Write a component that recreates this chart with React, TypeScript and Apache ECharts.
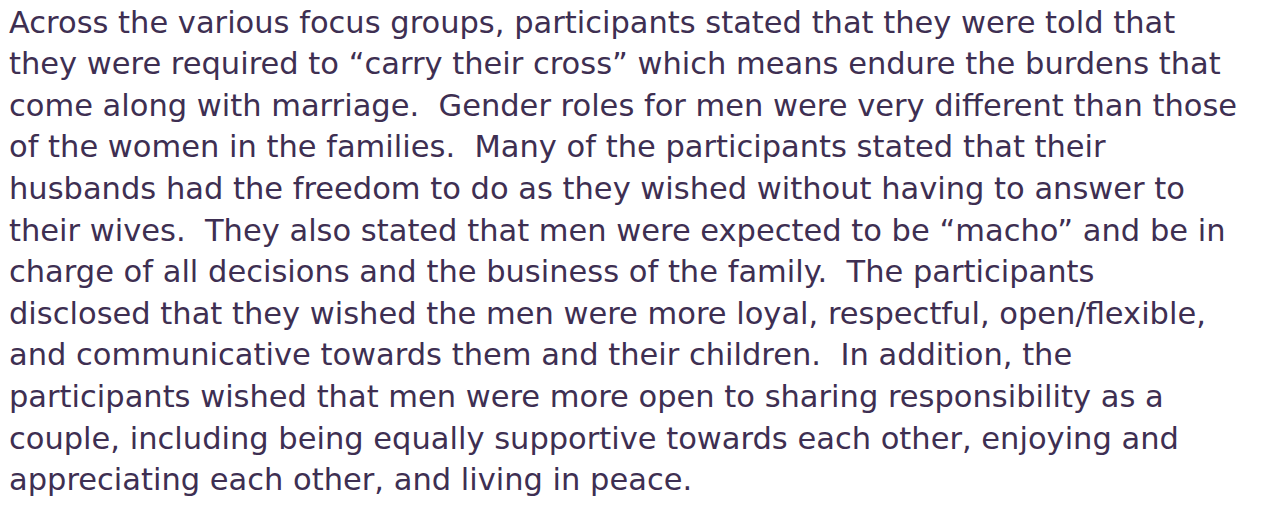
import React, { useEffect, useRef } from "react";
import * as echarts from "echarts";

const lines: string[] = [
  "Across the various focus groups, participants stated that they were told that",
  "they were required to \u201ccarry their cross\u201d which means endure the burdens that",
  "come along with marriage.  Gender roles for men were very different than those",
  "of the women in the families.  Many of the participants stated that their",
  "husbands had the freedom to do as they wished without having to answer to",
  "their wives.  They also stated that men were expected to be \u201cmacho\u201d and be in",
  "charge of all decisions and the business of the family.  The participants",
  "disclosed that they wished the men were more loyal, respectful, open/flexible,",
  "and communicative towards them and their children.  In addition, the",
  "participants wished that men were more open to sharing responsibility as a",
  "couple, including being equally supportive towards each other, enjoying and",
  "appreciating each other, and living in peace.",
];

const TEXT_COLOR = "#3e2f52";
const FONT_SIZE = 30.5;
const LINE_H = 41.6;
const TOP_Y = 22;
const LEFT_X = 9;
const SCALE_X = 1.0;

export default function App() {
  const ref = useRef<HTMLDivElement>(null);
  useEffect(() => {
    const chart = echarts.init(ref.current!, undefined, { renderer: "svg" });
    chart.setOption({
      animation: false,
      backgroundColor: "#ffffff",
      graphic: lines.map((t, i) => ({
        type: "text",
        x: LEFT_X,
        y: TOP_Y + i * LINE_H,
        scaleX: SCALE_X,
        style: {
          text: t,
          fill: TEXT_COLOR,
          font: `${FONT_SIZE}px "DejaVu Sans"`,
          align: "left",
          verticalAlign: "middle",
        },
      })),
    });
    return () => chart.dispose();
  }, []);
  return (
    <div
      ref={ref}
      style={{ position: "fixed", left: 0, top: 0, width: 1266, height: 517 }}
    />
  );
}
